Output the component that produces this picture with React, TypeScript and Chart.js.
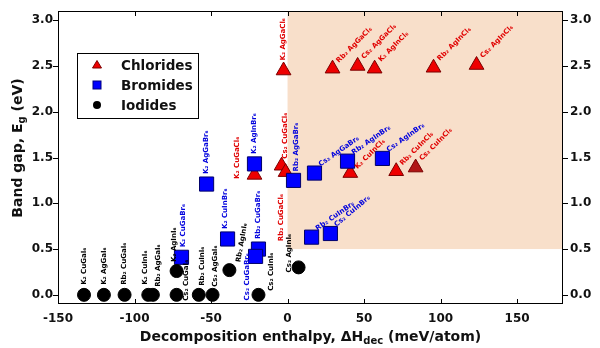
import React, { useEffect, useRef } from 'react';
import { Chart, registerables } from 'chart.js';

Chart.register(...registerables);

// ---- axes ----
const xTicks = [-150, -100, -50, 0, 50, 100, 150];
const yTicks = [0, 0.5, 1.0, 1.5, 2.0, 2.5, 3.0];
const xMin = -150;
const xMax = 180;
const yMin = -0.1;
const yMax = 3.1;
// shaded (stable, wide-gap) region starts here
const shadeFromX = 0;
const shadeFromY = 0.5;

// ---- Chlorides ----
const chlorideNames = [
  'K₂ AgGaCl₆', 'Rb₂ AgGaCl₆', 'Cs₂ AgGaCl₆', 'K₂ AgInCl₆', 'Rb₂ AgInCl₆', 'Cs₂ AgInCl₆',
  'K₂ CuGaCl₆', 'Cs₂ CuGaCl₆', 'Rb₂ CuGaCl₆', 'K₂ CuInCl₆', 'Rb₂ CuInCl₆', 'Cs₂ CuInCl₆',
];
const chlorideDH = [-2.6, 29.4, 45.8, 56.9, 95.4, 123.5, -21.6, -3.9, -1.3, 41, 71, 83.7];
const chlorideGap = [2.45, 2.47, 2.5, 2.47, 2.48, 2.51, 1.31, 1.41, 1.34, 1.33, 1.35, 1.39];

// ---- Bromides ----
const bromideNames = [
  'K₂ CuGaBr₆', 'K₂ AgGaBr₆', 'K₂ CuInBr₆', 'K₂ AgInBr₆', 'Rb₂ CuGaBr₆', 'Cs₂ CuGaBr₆',
  'Rb₂ AgGaBr₆', 'Cs₂ AgGaBr₆', 'Rb₂ AgInBr₆', 'Cs₂ AgInBr₆', 'Rb₂ CuInBr₆', 'Cs₂ CuInBr₆',
];
const bromideDH = [-69.3, -52.9, -39.2, -21.6, -19, -20.9, 3.9, 17.6, 39.2, 62, 15.7, 28];
const bromideGap = [0.41, 1.21, 0.61, 1.43, 0.5, 0.42, 1.25, 1.33, 1.46, 1.49, 0.63, 0.67];

// ---- Iodides ----
const iodideNames = [
  'K₂ CuGaI₆', 'K₂ AgGaI₆', 'Rb₂ CuGaI₆', 'K₂ CuInI₆', 'Rb₂ AgGaI₆', 'K₂ AgInI₆',
  'Cs₂ CuGaI₆', 'Rb₂ CuInI₆', 'Cs₂ AgGaI₆', 'Rb₂ AgInI₆', 'Cs₂ CuInI₆', 'Cs₂ AgInI₆',
];
const iodideDH = [-133, -120, -106.5, -91, -88, -72.5, -72.5, -58, -49, -38, -19, 7.2];
const iodideGap = [0, 0, 0, 0, 0, 0.26, 0, 0, 0, 0.27, 0, 0.3];

// ---- label placement (angle in degrees, pixel offset from marker) ----
const chlorideLabelPos = [
  [90, 0, -10], [45, 5, -7], [45, 5, -8], [45, 5, -8], [45, 5, -8], [45, 5, -8],
  [90, -17, 4], [90, 4, -7], [90, -4, 69], [45, 6, -5], [45, 5, -7], [45, 5, -8],
];
const bromideLabelPos = [
  [90, 2, -10], [90, 0, -10], [90, -2, -10], [90, 0, -10], [90, 0, -10], [90, -8, 44],
  [90, 3, -9], [35, 5, -8], [35, 5, -8], [35, 5, -8], [35, 5, -8], [40, 5, -8],
];
const iodideLabelPos = [
  [90, 0, -10], [90, 0, -10], [90, 0, -10], [90, -3, -10], [90, 5, -8], [90, -2, -9],
  [90, 10, 6], [90, 3, -9], [90, 3, -8], [80, 9, -8], [90, 13, -4], [90, -9, 5],
];

const chlorideFill = chlorideNames.map((_, i) => (i === 11 ? '#b01515' : '#ee0000'));

const FONT = '"DejaVu Sans", Verdana, sans-serif';

const labelPlugin = {
  id: 'customDecor',
  beforeDatasetsDraw(chart: any) {
    const { ctx, chartArea, scales } = chart;
    const x0 = scales.x.getPixelForValue(shadeFromX);
    const y0 = scales.y.getPixelForValue(shadeFromY);
    ctx.save();
    ctx.fillStyle = 'rgb(248,223,202)';
    ctx.fillRect(x0, chartArea.top, chartArea.right - x0, y0 - chartArea.top);
    ctx.restore();
  },
  afterDatasetsDraw(chart: any) {
    const { ctx } = chart;
    const groups = [
      { idx: 0, names: chlorideNames, pos: chlorideLabelPos, color: '#e00000' },
      { idx: 1, names: bromideNames, pos: bromideLabelPos, color: '#0000dd' },
      { idx: 2, names: iodideNames, pos: iodideLabelPos, color: '#000000' },
    ];
    groups.forEach((g) => {
      const meta = chart.getDatasetMeta(g.idx);
      meta.data.forEach((pt: any, i: number) => {
        const [ang, dx, dy] = g.pos[i];
        ctx.save();
        ctx.translate(pt.x + dx, pt.y + dy);
        ctx.rotate((-ang * Math.PI) / 180);
        ctx.fillStyle = g.color;
        ctx.font = `bold 7px ${FONT}`;
        ctx.textAlign = 'left';
        ctx.textBaseline = 'middle';
        ctx.fillText(g.names[i], 0, 0);
        ctx.restore();
      });
    });
  },
  afterDraw(chart: any) {
    const { ctx, chartArea, scales } = chart;
    const { left, right, top, bottom } = chartArea;
    ctx.save();
    // frame
    ctx.strokeStyle = '#000';
    ctx.lineWidth = 1;
    ctx.strokeRect(left + 0.5, top + 0.5, right - left - 1, bottom - top - 1);
    // ticks
    ctx.beginPath();
    xTicks.forEach((v) => {
      const px = Math.round(scales.x.getPixelForValue(v)) + 0.5;
      ctx.moveTo(px, bottom);
      ctx.lineTo(px, bottom - 5);
      ctx.moveTo(px, top);
      ctx.lineTo(px, top + 5);
    });
    yTicks.forEach((v) => {
      const py = Math.round(scales.y.getPixelForValue(v)) + 0.5;
      ctx.moveTo(left, py);
      ctx.lineTo(left - 5, py);
      ctx.moveTo(right, py);
      ctx.lineTo(right + 5, py);
    });
    ctx.stroke();

    // x title
    ctx.fillStyle = '#111';
    ctx.textBaseline = 'alphabetic';
    const big = `bold 14px ${FONT}`;
    const small = `bold 10px ${FONT}`;
    const xa = 'Decomposition enthalpy, ΔH';
    const xb = 'dec';
    const xc = ' (meV/atom)';
    ctx.font = big;
    const wa = ctx.measureText(xa).width;
    const wc = ctx.measureText(xc).width;
    ctx.font = small;
    const wb = ctx.measureText(xb).width;
    const total = wa + wb + wc;
    const cx = (left + right) / 2;
    const sx = cx - total / 2;
    const by = 341;
    ctx.textAlign = 'left';
    ctx.font = big;
    ctx.fillText(xa, sx, by);
    ctx.font = small;
    ctx.fillText(xb, sx + wa, by + 3);
    ctx.font = big;
    ctx.fillText(xc, sx + wa + wb, by);

    // y title
    const ya = 'Band gap, E';
    const yb = 'g';
    const yc = ' (eV)';
    ctx.font = big;
    const ywa = ctx.measureText(ya).width;
    const ywc = ctx.measureText(yc).width;
    ctx.font = small;
    const ywb = ctx.measureText(yb).width;
    const ytot = ywa + ywb + ywc;
    ctx.save();
    ctx.translate(22, 148);
    ctx.rotate(-Math.PI / 2);
    const ys = -ytot / 2;
    ctx.font = big;
    ctx.fillText(ya, ys, 0);
    ctx.font = small;
    ctx.fillText(yb, ys + ywa, 3);
    ctx.font = big;
    ctx.fillText(yc, ys + ywa + ywb, 0);
    ctx.restore();

    // legend
    const lx = left + 19;
    const ly = top + 42;
    ctx.fillStyle = '#fff';
    ctx.fillRect(lx, ly, 121, 65);
    ctx.strokeStyle = '#000';
    ctx.strokeRect(lx + 0.5, ly + 0.5, 121, 65);
    const mx = lx + 20;
    const rows = [ly + 12, ly + 32, ly + 52];
    // triangle
    ctx.fillStyle = '#ee0000';
    ctx.strokeStyle = '#800000';
    ctx.beginPath();
    ctx.moveTo(mx, rows[0] - 4.5);
    ctx.lineTo(mx + 4.5, rows[0] + 3);
    ctx.lineTo(mx - 4.5, rows[0] + 3);
    ctx.closePath();
    ctx.fill();
    ctx.stroke();
    // square
    ctx.fillStyle = '#0000ff';
    ctx.strokeStyle = '#000080';
    ctx.fillRect(mx - 4, rows[1] - 4, 8, 8);
    ctx.strokeRect(mx - 4, rows[1] - 4, 8, 8);
    // circle
    ctx.fillStyle = '#000';
    ctx.beginPath();
    ctx.arc(mx, rows[2], 4, 0, Math.PI * 2);
    ctx.fill();
    ctx.fillStyle = '#111';
    ctx.font = `bold 13.5px ${FONT}`;
    ctx.textBaseline = 'middle';
    ctx.textAlign = 'left';
    ['Chlorides', 'Bromides', 'Iodides'].forEach((t, i) => ctx.fillText(t, lx + 44, rows[i] + 1));
    ctx.restore();
  },
};

const zeroPad = (s: any) => {
  s.paddingTop = 0;
  s.paddingBottom = 0;
  s.paddingLeft = 0;
  s.paddingRight = 0;
};

export default function App() {
  const ref = useRef<HTMLCanvasElement>(null);
  useEffect(() => {
    if (!ref.current) return;
    const tickFont = { family: FONT, size: 12, weight: 'bold' as const };
    const chart = new Chart(ref.current, {
      type: 'scatter',
      data: {
        datasets: [
          {
            label: 'Chlorides',
            data: chlorideDH.map((x, i) => ({ x, y: chlorideGap[i] })),
            pointStyle: 'triangle',
            pointRadius: 8.5,
            backgroundColor: chlorideFill,
            borderColor: '#7a0000',
            borderWidth: 1,
            order: 3,
          },
          {
            label: 'Bromides',
            data: bromideDH.map((x, i) => ({ x, y: bromideGap[i] })),
            pointStyle: 'rect',
            pointRadius: 10,
            backgroundColor: '#0000ff',
            borderColor: '#00006a',
            borderWidth: 1,
            order: 2,
          },
          {
            label: 'Iodides',
            data: iodideDH.map((x, i) => ({ x, y: iodideGap[i] })),
            pointStyle: 'circle',
            pointRadius: 6.5,
            backgroundColor: '#000',
            borderColor: '#000',
            borderWidth: 1,
            order: 1,
          },
        ],
      },
      options: {
        animation: false,
        responsive: true,
        maintainAspectRatio: false,
        layout: { padding: { top: 5, left: 0, right: 0, bottom: 0 } },
        plugins: { legend: { display: false }, tooltip: { enabled: false } },
        scales: {
          x: {
            type: 'linear',
            min: xMin,
            max: xMax,
            grid: { display: false, drawTicks: false },
            border: { display: false },
            afterBuildTicks: (s: any) => {
              s.ticks = xTicks.map((v) => ({ value: v }));
            },
            afterFit: (s: any) => {
              s.height = 44;
              zeroPad(s);
            },
            ticks: {
              font: tickFont,
              color: '#111',
              padding: 8,
              maxRotation: 0,
              callback: (v: any) => String(v),
            },
          },
          y: {
            type: 'linear',
            position: 'left',
            min: yMin,
            max: yMax,
            grid: { display: false, drawTicks: false },
            border: { display: false },
            afterBuildTicks: (s: any) => {
              s.ticks = yTicks.map((v) => ({ value: v }));
            },
            afterFit: (s: any) => {
              s.width = 58;
              zeroPad(s);
            },
            ticks: {
              font: tickFont,
              color: '#111',
              padding: 5,
              callback: (v: any) => Number(v).toFixed(1),
            },
          },
          y2: {
            type: 'linear',
            position: 'right',
            min: yMin,
            max: yMax,
            grid: { display: false, drawTicks: false },
            border: { display: false },
            afterBuildTicks: (s: any) => {
              s.ticks = yTicks.map((v) => ({ value: v }));
            },
            afterFit: (s: any) => {
              s.width = 37;
              zeroPad(s);
            },
            ticks: {
              font: tickFont,
              color: '#111',
              padding: 7,
              callback: (v: any) => Number(v).toFixed(1),
            },
          },
        },
      },
      plugins: [labelPlugin],
    });
    return () => chart.destroy();
  }, []);
  return (
    <div style={{ position: 'fixed', left: 0, top: 0, width: 600, height: 348, background: '#fff' }}>
      <canvas ref={ref} />
    </div>
  );
}
